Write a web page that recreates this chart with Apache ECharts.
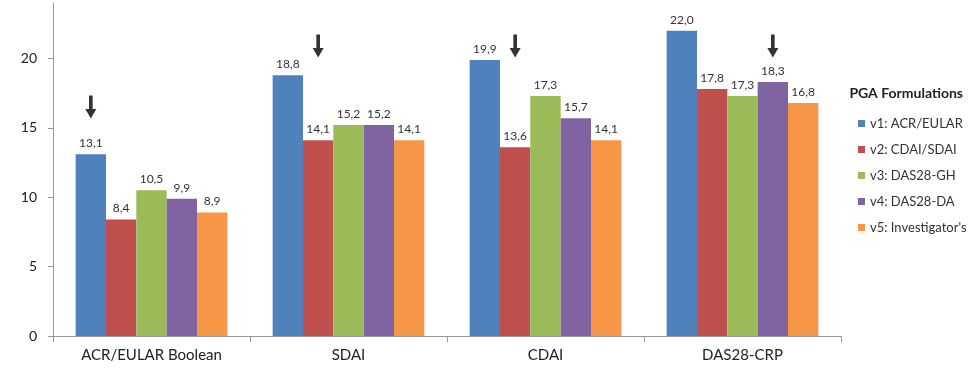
<!DOCTYPE html>
<html>
<head>
<meta charset="utf-8">
<script src="https://cdn.jsdelivr.net/npm/echarts@6/dist/echarts.min.js"></script>
<style>
  html, body { margin: 0; padding: 0; background: #fff; }
  #chart { width: 978px; height: 376px; }
</style>
</head>
<body>
<div id="chart"></div>
<script>
// categories + series values
const categories = ['ACR/EULAR Boolean', 'SDAI', 'CDAI', 'DAS28-CRP']
const seriesNames = ['v1: ACR/EULAR', 'v2: CDAI/SDAI', 'v3: DAS28-GH', 'v4: DAS28-DA', "v5: Investigator's"]
const v1 = [13.1, 18.8, 19.9, 22.0]
const v2 = [8.4, 14.1, 13.6, 17.8]
const v3 = [10.5, 15.2, 17.3, 17.3]
const v4 = [9.9, 15.2, 15.7, 18.3]
const v5 = [8.9, 14.1, 14.1, 16.8]
const colors = ['#4F81BD', '#C0504D', '#9BBB59', '#8064A2', '#F79646']
const yTicks = [0, 5, 10, 15, 20]

// arrows: [series index, category, value where the arrow sits]
const arrows = [
  [0, 'ACR/EULAR Boolean', 16.5],
  [1, 'SDAI', 20.9],
  [1, 'CDAI', 20.9],
  [3, 'DAS28-CRP', 20.9]
]

const arrowPath = 'path://M4,0 L8,0 L8,14 L12,14 L6,24 L0,14 L4,14 Z'
const font = 'Lato, "Open Sans", sans-serif'

const allValues = [v1, v2, v3, v4, v5]

const chart = echarts.init(document.getElementById('chart'))

const series = allValues.map((vals, i) => ({
  name: seriesNames[i],
  type: 'bar',
  data: vals,
  barGap: '0%',
  barCategoryGap: '23%',
  itemStyle: { color: colors[i] },
  label: {
    show: true,
    position: 'top',
    distance: 5,
    fontFamily: font,
    fontSize: 12,
    color: '#333',
    formatter: p => p.value.toFixed(1).replace('.', ',')
  },
  markPoint: {
    silent: true,
    symbol: arrowPath,
    symbolSize: [11, 23],
    itemStyle: { color: '#333' },
    label: { show: false },
    data: arrows.filter(a => a[0] === i).map(a => ({ coord: [a[1], a[2]] }))
  }
}))

chart.setOption({
  animation: false,
  textStyle: { fontFamily: font },
  title: {
    text: 'PGA Formulations',
    right: 10,
    top: 81,
    textStyle: { fontFamily: font, fontSize: 14, fontWeight: 'bold', color: '#222' }
  },
  legend: {
    orient: 'vertical',
    left: 853,
    top: 112,
    itemWidth: 7,
    itemHeight: 7,
    itemGap: 13,
    icon: 'rect',
    textStyle: { fontFamily: font, fontSize: 13, color: '#333' },
    data: seriesNames
  },
  grid: { left: 53, right: 137, top: 3, bottom: 40 },
  xAxis: {
    type: 'category',
    data: categories,
    axisLine: { lineStyle: { color: '#999' } },
    axisTick: { show: true, length: 6, lineStyle: { color: '#999' } },
    axisLabel: { fontFamily: font, fontSize: 15, color: '#222', margin: 12 }
  },
  yAxis: {
    type: 'value',
    min: 0,
    max: 24,
    interval: 5,
    axisLine: { show: true, lineStyle: { color: '#999' } },
    axisTick: { show: true, length: 5, lineStyle: { color: '#999' } },
    splitLine: { show: false },
    axisLabel: {
      fontFamily: font, fontSize: 14, color: '#222', margin: 16,
      showMaxLabel: false,
      formatter: v => (yTicks.includes(v) ? String(v) : '')
    }
  },
  series
})
</script>
</body>
</html>
